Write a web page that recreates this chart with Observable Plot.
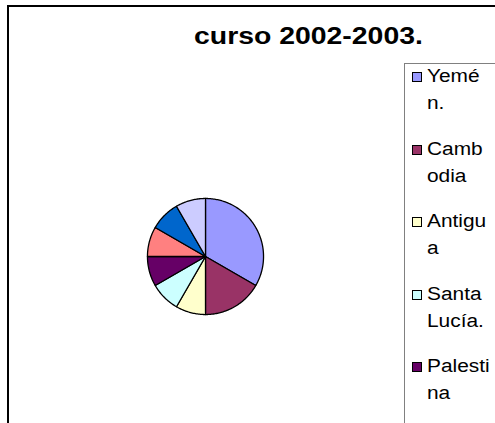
<!DOCTYPE html>
<html>
<head>
<meta charset="utf-8">
<script src="https://cdn.jsdelivr.net/npm/d3@7"></script>
<script src="https://cdn.jsdelivr.net/npm/@observablehq/plot@0.6"></script>
<style>
  html, body { margin: 0; padding: 0; background: #fff; }
  #page { position: relative; width: 495px; height: 423px; overflow: hidden; background: #fff; font-family: "Liberation Sans", Arial, sans-serif; }
  #frame { position: absolute; left: 7px; top: 5px; width: 700px; height: 700px; border: 2px solid #000; box-sizing: border-box; }
  #title { position: absolute; left: 194px; top: 22px; font-weight: bold; font-size: 24.7px; white-space: nowrap; transform: scaleX(1.15); transform-origin: 0 0; color: #000; }
  #pie { position: absolute; left: 140px; top: 191px; }
  #legend { position: absolute; left: 404px; top: 63px; width: 300px; height: 500px; border: 1px solid #808080; box-sizing: border-box; background: #fff; }
  .item { position: absolute; left: 0; }
  .sw { position: absolute; left: 7px; top: 9px; width: 10px; height: 10px; box-sizing: border-box; border: 1px solid #000; }
  .txt { position: absolute; left: 22px; top: 0; width: 55px; font-size: 18px; line-height: 27px; word-break: break-all; transform: scaleX(1.16); transform-origin: 0 0; color: #000; }
</style>
</head>
<body>
<div id="page">
  <div id="frame"></div>
  <div id="title"></div>
  <div id="pie"></div>
  <div id="legend"></div>
</div>
<script>
const title = "curso 2002-2003.";
const categories = ["Yemén.", "Cambodia", "Antigua", "Santa Lucía.", "Palestina", "(6)", "(7)", "(8)"];
const values = [4, 2, 1, 1, 1, 1, 1, 1];
const colors = ["#9999FF", "#993366", "#FFFFCC", "#CCFFFF", "#660066", "#FF8080", "#0066CC", "#CCCCFF"];
const visibleLegendEntries = 5; // the legend is clipped by the chart frame after five entries

document.getElementById("title").textContent = title;

const data = categories.map((name, i) => ({name, value: values[i]}));
const arcs = d3.pie().sort(null).value(d => d.value)(data);
const pts = [];
for (const a of arcs) {
  pts.push({name: a.data.name, x: 0, y: 0});
  const n = Math.max(2, Math.ceil((a.endAngle - a.startAngle) / (Math.PI / 180)));
  for (let k = 0; k <= n; k++) {
    const t = a.startAngle + (a.endAngle - a.startAngle) * k / n;
    pts.push({name: a.data.name, x: Math.sin(t), y: Math.cos(t)});
  }
}

const chart = Plot.plot({
  width: 130,
  height: 130,
  margin: 0,
  x: {domain: [-1.12, 1.12], axis: null},
  y: {domain: [-1.12, 1.12], axis: null},
  color: {domain: categories, range: colors},
  marks: [
    Plot.line(pts, {x: "x", y: "y", z: "name", fill: "name", stroke: "#000", strokeWidth: 1.3, curve: "linear-closed", strokeLinejoin: "round"})
  ]
});
document.getElementById("pie").appendChild(chart);

const legend = document.getElementById("legend");
const color = chart.scale("color");
categories.slice(0, visibleLegendEntries).forEach((name, i) => {
  const it = document.createElement("div");
  it.className = "item";
  it.style.top = (i * 72.5 - 1) + "px";
  const sw = document.createElement("div");
  sw.className = "sw";
  sw.style.background = color.apply(name);
  const tx = document.createElement("div");
  tx.className = "txt";
  tx.textContent = name;
  it.appendChild(sw);
  it.appendChild(tx);
  legend.appendChild(it);
});
</script>
</body>
</html>
